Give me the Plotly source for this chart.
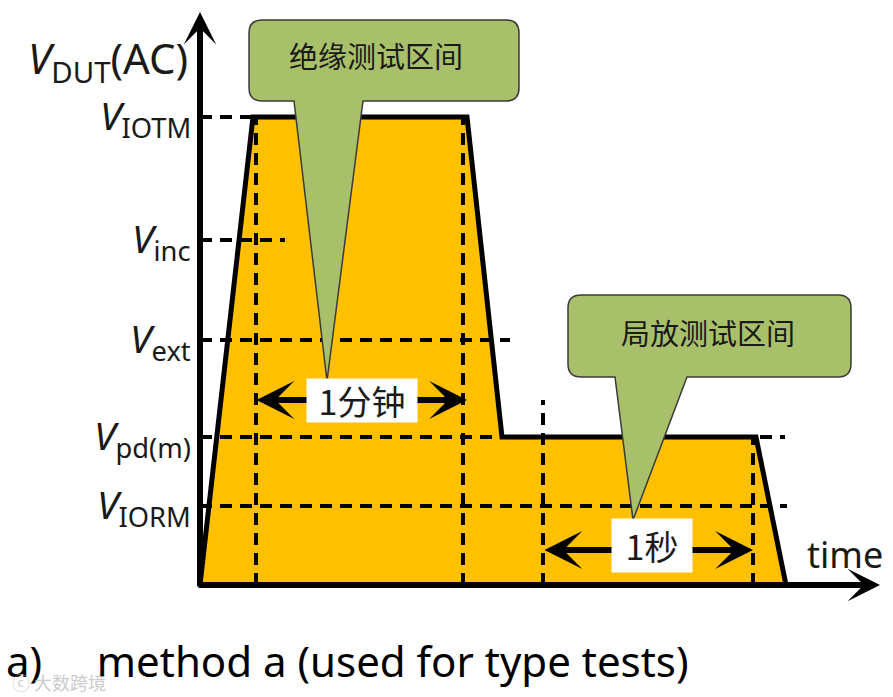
import plotly.graph_objects as go

# ---------------- data (arbitrary diagram units: time from the origin, voltage above baseline)
level_names = ["V_IOTM", "V_inc", "V_ext", "V_pd(m)", "V_IORM"]
level_labels = ["<i>V</i><sub>IOTM</sub>", "<i>V</i><sub>inc</sub>", "<i>V</i><sub>ext</sub>",
                "<i>V</i><sub>pd(m)</sub>", "<i>V</i><sub>IORM</sub>"]
level_values = [468, 345, 245, 148, 79]

wave_t = [0, 53, 267, 302, 556, 586]
wave_v = [0, 468, 468, 148, 148, 0]

marker_t = [56, 263, 343, 553]          # vertical dashed time markers
level_dash_end = [53, 85, 310, 585, 587]  # how far each level's dashed line runs

interval_labels = ["1分钟", "1秒"]
interval_start = [55, 343]
interval_end = [267, 553]
interval_v = [185, 35]

callout_texts = ["绝缘测试区间", "局放测试区间"]
axis_title = "<i>V</i><sub>DUT</sub>(AC)"
x_title = "time"
caption = "a)&nbsp;&nbsp;&nbsp;&nbsp; method a (used for type tests)"

# ---------------- figure
W, H = 893, 697
X0, Y0 = 200, 585  # origin in page pixels


def px(xp, yp):
    """page pixel -> data coords (used only for decoration geometry)"""
    return xp - X0, Y0 - yp


ORANGE = "#FFC000"
GREEN = "#A9C06A"
FONT = "Noto Sans"
CJK = "Noto Sans CJK SC"

fig = go.Figure()

# waveform
fig.add_trace(go.Scatter(x=wave_t, y=wave_v, mode="lines", fill="toself",
                         fillcolor=ORANGE, line=dict(color="black", width=5),
                         hoverinfo="skip", showlegend=False))

shapes = []
DASH = "12px,8px"
# horizontal dashed level lines
for v, end in zip(level_values, level_dash_end):
    shapes.append(dict(type="line", xref="x", yref="y", x0=0, x1=end, y0=v, y1=v,
                       line=dict(color="black", width=4, dash=DASH), layer="above"))
# vertical dashed markers
marker_top = [level_values[0], level_values[0], interval_v[0], level_values[3]]
for t, top in zip(marker_t, marker_top):
    shapes.append(dict(type="line", xref="x", yref="y", x0=t, x1=t, y0=0, y1=top,
                       line=dict(color="black", width=4, dash=DASH), layer="above"))


def callout_path(L, R, T, B, a, b, tx, ty, r=13):
    def P(xp, yp):
        x, y = px(xp, yp)
        return f"{x},{y}"
    d = (f"M{P(L + r, T)} L{P(R - r, T)} Q{P(R, T)} {P(R, T + r)} L{P(R, B - r)} "
         f"Q{P(R, B)} {P(R - r, B)} L{P(b, B)} L{P(tx, ty)} L{P(a, B)} L{P(L + r, B)} "
         f"Q{P(L, B)} {P(L, B - r)} L{P(L, T + r)} Q{P(L, T)} {P(L + r, T)} Z")
    return d


callouts = [
    dict(L=249, R=519, T=20, B=101, a=294, b=363, tx=327, ty=381, cx=376, cy=55),
    dict(L=568, R=851, T=295, B=377, a=615, b=687, tx=633, ty=520, cx=708, cy=332),
]
for c in callouts:
    shapes.append(dict(type="path", xref="x", yref="y",
                       path=callout_path(c["L"], c["R"], c["T"], c["B"], c["a"], c["b"], c["tx"], c["ty"]),
                       fillcolor=GREEN, line=dict(color="#3a3a3a", width=1.5), layer="above"))

annotations = []
# axes with arrows
annotations.append(dict(x=0, y=px(0, 12)[1], ax=0, ay=-3, xref="x", yref="y", axref="x", ayref="y",
                        showarrow=True, arrowhead=3, arrowwidth=6, arrowsize=0.9,
                        arrowcolor="black", text="", standoff=0))
annotations.append(dict(x=px(880, 0)[0], y=0, ax=-3, ay=0, xref="x", yref="y", axref="x", ayref="y",
                        showarrow=True, arrowhead=3, arrowwidth=6, arrowsize=0.9,
                        arrowcolor="black", text="", standoff=0))

# interval double arrows
for s, e, v in zip(interval_start, interval_end, interval_v):
    annotations.append(dict(x=e, y=v, ax=s, ay=v, xref="x", yref="y", axref="x", ayref="y",
                            showarrow=True, arrowhead=3, startarrowhead=3, arrowside="end+start",
                            arrowwidth=6, arrowsize=1.05, startarrowsize=1.05,
                            arrowcolor="black", text="", standoff=0, startstandoff=0))
# interval labels (white boxes)
label_boxes = [(307, 417, 379, 422), (612, 692, 519, 572)]
for txt, (l, r, t, b) in zip(interval_labels, label_boxes):
    x, y = px((l + r) / 2, (t + b) / 2)
    annotations.append(dict(x=x, y=y, xref="x", yref="y", text=txt, showarrow=False,
                            bgcolor="white", width=r - l, height=b - t, borderpad=0,
                            font=dict(family=CJK, size=34, color="#1a1a1a")))

# callout texts
for c, txt in zip(callouts, callout_texts):
    x, y = px(c["cx"], c["cy"])
    annotations.append(dict(x=x, y=y, xref="x", yref="y", text=txt, showarrow=False,
                            font=dict(family=CJK, size=29, color="#1a1a1a")))

# level labels
for lab, v in zip(level_labels, level_values):
    annotations.append(dict(x=-7, y=v, xref="x", yref="y", text=lab, showarrow=False,
                            xanchor="right", yanchor="middle",
                            font=dict(family=FONT, size=39, color="#1a1a1a")))
# y-axis title
annotations.append(dict(x=-10, y=px(0, 60)[1], xref="x", yref="y", text=axis_title, showarrow=False,
                        xanchor="right", yanchor="middle",
                        font=dict(family=FONT, size=42, color="#1a1a1a")))
# x-axis title
x, y = px(845, 554)
annotations.append(dict(x=x, y=y, xref="x", yref="y", text=x_title, showarrow=False,
                        font=dict(family=FONT, size=36, color="#1a1a1a")))
# caption
x, y = px(4, 660)
annotations.append(dict(x=x, y=y, xref="x", yref="y", text=caption, showarrow=False,
                        xanchor="left", yanchor="middle",
                        font=dict(family=FONT, size=42, color="black")))
# watermark
x, y = px(10, 682)
annotations.append(dict(x=x, y=y, xref="x", yref="y", text="ⓒ 大数跨境", showarrow=False,
                        xanchor="left", yanchor="middle",
                        font=dict(family=CJK, size=18, color="rgba(190,190,190,0.8)")))

fig.update_layout(
    width=W, height=H, margin=dict(l=0, r=0, t=0, b=0),
    paper_bgcolor="white", plot_bgcolor="white",
    xaxis=dict(range=[-X0, W - X0], visible=False, fixedrange=True),
    yaxis=dict(range=[Y0 - H, Y0], visible=False, fixedrange=True),
    shapes=shapes, annotations=annotations, showlegend=False,
)
fig.write_html("out.html", config={"displayModeBar": False},
               post_script="document.body.style.margin='0';document.body.style.overflow='hidden';")
